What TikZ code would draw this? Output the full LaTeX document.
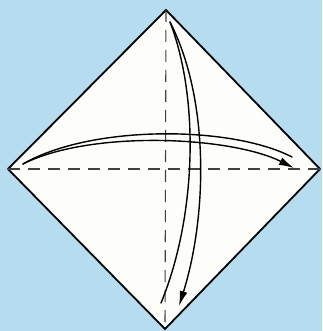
\documentclass[tikz,border=0pt]{standalone}
\usetikzlibrary{arrows.meta}
\definecolor{bgblue}{RGB}{182,220,240}
\definecolor{paper}{RGB}{253,253,250}
\begin{document}
\begin{tikzpicture}[x=1pt,y=-1pt,
  fold/.style={line width=1.1pt, dash pattern=on 12pt off 8pt, black!75},
  edge/.style={line width=1.8pt, line join=round},
  arr/.style={line width=1.4pt, line cap=round},
  tip/.style={-{Latex[length=15pt,width=8pt]}}]
\fill[bgblue] (0,0) rectangle (322,331);
\useasboundingbox (0,0) rectangle (322,331);
\coordinate (T) at (166,10);
\coordinate (R) at (320,169);
\coordinate (B) at (165,329);
\coordinate (L) at (8,169);
\filldraw[fill=paper, edge] (T) -- (R) -- (B) -- (L) -- cycle;
\draw[fold] (L) -- (R);
\draw[fold] (T) -- (B);
% horizontal arrow
\coordinate (hs) at (23,164);
\coordinate (hu) at (292,157);
\coordinate (hl) at (294,168);
\draw[arr] (hs) .. controls (90,125) and (230,125) .. (hu);
\draw[arr, tip] (hs) .. controls (90,130) and (230,136) .. (hl);
% vertical arrow
\coordinate (vs) at (170,22);
\coordinate (vl) at (161,303);
\coordinate (vr) at (179,306);
\draw[arr] (vs) .. controls (200,100) and (196,218) .. (vl);
\draw[arr, tip] (vs) .. controls (210,100) and (207,217) .. (vr);
\end{tikzpicture}
\end{document}
